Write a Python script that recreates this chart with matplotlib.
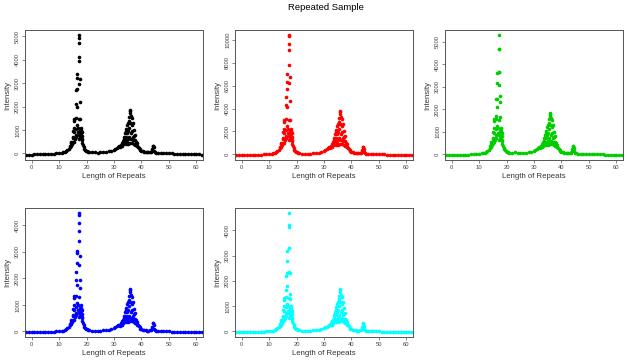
import numpy as np
import matplotlib
matplotlib.use("Agg")
import matplotlib.pyplot as plt

plt.rcParams['font.family'] = ['Liberation Sans', 'DejaVu Sans']

# shared x positions (length of repeats), by segment
x_base_left = [-3, -2, -1, 0, 1, 2, 3, 4, 5, 6, 7, 8, 9, 10, 11]
x_rise = [11.5, 12, 12.5, 13, 13.5]
x_peak1 = [13.8, 14.0, 14.2, 14.4, 14.6, 14.8, 14.5, 14.9, 15.0, 15.1,
           15.2, 15.3, 15.4, 15.5, 15.6, 15.7, 15.4, 16.0, 16.1, 16.2,
           16.3, 16.4, 16.5, 16.6, 16.7, 16.5, 16.3, 16.8, 16.0, 17.0,
           17.1, 17.2, 17.25, 17.3, 17.3, 17.35, 17.4, 17.45, 17.5, 17.55,
           17.6, 17.3, 17.7, 17.2, 17.9, 18.0, 18.1, 18.2, 18.3, 18.4,
           18.5, 18.2, 18.0, 18.7, 18.9, 19.1, 19.4, 19.7, 20.0]
x_between = [20.5, 21, 22, 23, 24, 25, 26, 27, 28, 29, 30, 30.5, 31, 31.5]
x_peak2 = [32.0, 32.2, 32.5, 32.7, 33.0, 33.0, 33.2, 33.4, 33.5, 33.6,
           33.8, 34.0, 34.0, 34.2, 34.3, 34.5, 34.5, 34.6, 34.8, 34.9,
           35.0, 35.0, 35.1, 35.2, 35.3, 35.5, 35.5, 35.6, 35.7, 35.8,
           35.9, 36.0, 36.0, 36.1, 36.2, 36.3, 36.4, 36.5, 36.6, 36.7,
           36.8, 37.0, 37.0, 37.2, 37.3, 37.4, 37.6, 37.7, 37.8, 38.0,
           38.2, 38.3, 38.5, 38.7, 39.0, 39.3]
x_peak3 = [39.6, 40, 40.5, 41, 41.5, 42, 42.5, 43, 43.5, 43.8, 44.0, 44.2,
           44.35, 44.5, 44.7, 44.9, 45.3]
x_base_right = [46, 47, 48, 49, 50, 51, 52, 53, 54, 55, 56, 57, 58, 59, 60,
                61, 62, 63]

repeats = x_base_left + x_rise + x_peak1 + x_between + x_peak2 + x_peak3 + x_base_right

# intensities for each sample (same segment order as above)
black_vals = (
    [-80, -75, -70, -60, -50, -40, -35, -30, -30, -25, -20, -15, -5, 10, 30]
    + [40, 60, 90, 140, 200]
    + [260, 330, 420, 500, 430, 380, 300, 470, 650, 950,
       700, 1400, 1480, 1100, 900, 600, 500, 1050, 1500, 2100,
       2730, 3410, 3240, 2750, 1990, 1200, 800, 900, 700, 1100,
       1450, 2950, 3935, 4715, 4930, 5070, 4120, 3200, 2200, 1450,
       1000, 800, 700, 600, 850, 1000, 1100, 900, 750, 600,
       450, 550, 700, 350, 280, 200, 150, 110, 90]
    + [70, 55, 40, 35, 30, 35, 45, 60, 80, 110, 150, 180, 220, 260]
    + [300, 260, 350, 300, 450, 300, 520, 380, 600, 450,
       700, 850, 550, 400, 950, 1050, 700, 500, 1200, 850,
       1300, 600, 400, 950, 1400, 1550, 700, 1100, 450, 1800,
       1720, 1850, 1300, 850, 600, 1600, 1200, 450, 1500, 950,
       700, 1300, 550, 1000, 750, 400, 800, 550, 350, 500,
       420, 300, 330, 280, 230, 170]
    + [130, 100, 80, 60, 50, 40, 40, 45, 60, 110, 200, 300, 330, 250, 120, 60, 30]
    + [20, 10, 5, 0, 0, -5, -10, -15, -20, -25, -30, -30, -35, -40, -45, -50, -60, -70]
)

red_vals = (
    [-75, -70, -65, -60, -55, -50, -45, -40, -35, -30, -20, -10, 0, 20, 60]
    + [80, 120, 180, 280, 400]
    + [530, 680, 860, 1030, 880, 780, 620, 960, 1330, 1950,
       1440, 2870, 3030, 2250, 1850, 1230, 1030, 2150, 3080, 4300,
       5000, 7000, 6300, 5700, 4100, 2460, 1640, 1850, 1440, 2250,
       2970, 6250, 7800, 9650, 10350, 10450, 9150, 6800, 4700, 3000,
       2050, 1640, 1440, 1230, 1750, 2050, 2250, 1850, 1540, 1230,
       920, 1130, 1440, 720, 570, 410, 300, 220, 180]
    + [130, 100, 70, 60, 55, 60, 80, 110, 150, 210, 290, 350, 430, 510]
    + [610, 530, 720, 610, 920, 610, 1070, 780, 1230, 920,
       1440, 1740, 1130, 820, 1950, 2150, 1440, 1030, 2460, 1740,
       2670, 1230, 820, 1950, 2870, 3180, 1440, 2250, 920, 3690,
       3530, 3800, 2670, 1740, 1230, 3280, 2460, 920, 3080, 1950,
       1440, 2670, 1130, 2050, 1540, 820, 1640, 1130, 720, 1030,
       860, 610, 680, 570, 470, 350]
    + [260, 200, 160, 120, 100, 80, 80, 90, 120, 240, 420, 600, 660, 500, 240, 120, 60]
    + [30, 15, 5, 0, -5, -10, -15, -20, -25, -30, -35, -40, -45, -50, -55, -60, -70, -75]
)

green_vals = (
    [-50, -45, -40, -40, -35, -35, -30, -30, -25, -20, -15, -10, 0, 10, 30]
    + [40, 60, 90, 140, 200]
    + [270, 350, 440, 520, 450, 400, 310, 490, 680, 1000,
       730, 1470, 1550, 1150, 940, 630, 520, 1100, 1550, 1700,
       2450, 3150, 3600, 2450, 2090, 1260, 840, 940, 730, 1150,
       1520, 3100, 3650, 4700, 4680, 5320, 3650, 2600, 2310, 1650,
       1050, 840, 730, 630, 890, 1050, 1150, 940, 790, 630,
       470, 580, 730, 370, 290, 210, 160, 120, 100]
    + [80, 60, 60, 110, 60, 40, 45, 60, 80, 110, 150, 180, 220, 260]
    + [300, 260, 350, 300, 450, 300, 520, 380, 600, 450,
       700, 850, 550, 400, 950, 1050, 700, 500, 1200, 850,
       1300, 600, 400, 950, 1400, 1550, 700, 1100, 450, 1800,
       1720, 1840, 1300, 850, 600, 1600, 1200, 450, 1500, 950,
       700, 1300, 550, 1000, 750, 400, 800, 550, 350, 500,
       420, 300, 330, 280, 230, 170]
    + [130, 100, 80, 60, 50, 40, 40, 45, 60, 120, 230, 340, 370, 280, 130, 60, 30]
    + [20, 10, 5, 0, 0, -5, -5, -10, -10, -15, -20, -20, -25, -30, -35, -40, -45, -50]
)

blue_vals = (
    [-30, -30, -30, -25, -25, -25, -20, -20, -20, -15, -10, -5, 0, 10, 25]
    + [35, 50, 80, 120, 175]
    + [230, 290, 370, 440, 380, 340, 270, 420, 580, 850,
       620, 1250, 1320, 980, 800, 530, 440, 930, 1340, 1950,
       2250, 3050, 2950, 2600, 1770, 1070, 710, 800, 620, 980,
       1290, 2500, 3400, 4100, 4400, 4480, 3800, 2850, 1960, 1650,
       890, 710, 620, 530, 760, 890, 980, 800, 670, 530,
       400, 490, 620, 310, 250, 180, 130, 100, 80]
    + [60, 50, 35, 30, 25, 30, 40, 55, 70, 95, 130, 160, 190, 230]
    + [260, 220, 300, 260, 390, 260, 450, 330, 520, 390,
       600, 730, 470, 340, 820, 900, 600, 430, 1030, 730,
       1120, 520, 340, 820, 1200, 1330, 600, 950, 390, 1550,
       1480, 1590, 1120, 730, 520, 1380, 1030, 390, 1290, 820,
       600, 1120, 470, 860, 650, 340, 690, 470, 300, 430,
       360, 260, 280, 240, 200, 150]
    + [110, 85, 70, 50, 40, 35, 35, 40, 55, 100, 180, 300, 333, 230, 110, 55, 25]
    + [15, 8, 5, 0, 0, -5, -5, -10, -10, -15, -15, -20, -20, -25, -25, -30, -30, -30]
)

cyan_vals = (
    [-30, -30, -30, -25, -25, -25, -20, -20, -20, -15, -10, -5, 0, 10, 25]
    + [35, 50, 80, 120, 175]
    + [230, 290, 380, 450, 390, 340, 270, 420, 590, 860,
       630, 1260, 1340, 990, 810, 540, 450, 950, 1350, 1650,
       2200, 2800, 3200, 2300, 1800, 1080, 720, 810, 630, 990,
       1310, 2350, 3300, 4200, 4150, 4700, 3300, 2300, 1500, 1300,
       900, 720, 630, 540, 770, 900, 990, 810, 680, 540,
       410, 500, 630, 320, 250, 180, 140, 100, 80]
    + [60, 50, 35, 30, 25, 30, 40, 55, 70, 95, 130, 160, 190, 230]
    + [270, 240, 320, 270, 410, 270, 470, 350, 550, 410,
       640, 770, 500, 360, 860, 960, 640, 460, 1090, 770,
       1180, 550, 360, 860, 1270, 1410, 640, 1000, 410, 1640,
       1570, 1690, 1180, 770, 550, 1460, 1090, 410, 1370, 860,
       640, 1180, 500, 910, 680, 360, 730, 500, 320, 460,
       380, 270, 300, 250, 210, 150]
    + [115, 90, 70, 55, 45, 35, 35, 40, 55, 100, 190, 300, 333, 230, 110, 55, 25]
    + [15, 8, 5, 0, 0, -5, -5, -10, -10, -15, -15, -20, -20, -25, -25, -30, -30, -30]
)

samples = [black_vals, red_vals, green_vals, blue_vals, cyan_vals]
colors = ['black', '#FF0000', '#00CD00', '#0000FF', '#00FFFF']
y_ticks = [
    [0, 1000, 2000, 3000, 4000, 5000],
    [0, 2000, 4000, 6000, 8000, 10000],
    [0, 1000, 2000, 3000, 4000, 5000],
    [0, 1000, 2000, 3000, 4000],
    [0, 1000, 2000, 3000, 4000],
]
x_ticks = [0, 10, 20, 30, 40, 50, 60]

W, H = 627, 364
fig = plt.figure(figsize=(W / 100, H / 100), dpi=100)

# panel boxes in pixels: left, top, right, bottom
boxes = [
    (25, 30, 203, 160), (235, 30, 413, 160), (445, 30, 623, 160),
    (25, 208, 203, 337), (235, 208, 413, 337),
]

frame_col = '#555555'
for vals, col, yt, (l, t, r, b) in zip(samples, colors, y_ticks, boxes):
    assert len(vals) == len(repeats)
    ax = fig.add_axes([l / W, 1 - b / H, (r - l) / W, (b - t) / H])
    ax.plot(repeats, vals, 'o', color=col, markersize=2.6, markeredgewidth=0)
    # R style: xlim 0..60 with 4% padding, y padded 4% of the data range
    ax.set_xlim(-2.4, 62.4)
    lo, hi = min(vals), max(vals)
    pad = 0.04 * (hi - lo)
    ax.set_ylim(lo - pad, hi + pad)
    ax.set_xticks(x_ticks)
    ax.set_yticks(yt)
    ax.set_yticklabels([str(v) for v in yt], rotation=90, va='center')
    ax.tick_params(labelsize=4.2, length=2, width=0.5, pad=1.5,
                   colors='#555555', labelcolor='#444444')
    for s in ax.spines.values():
        s.set_color(frame_col)
        s.set_linewidth(0.7)
    ax.set_xlabel('Length of Repeats', fontsize=5.6, labelpad=2, color='#333333')
    ax.set_ylabel('Intensity', fontsize=5.6, labelpad=3, color='#333333')

fig.text(326 / W, 1 - 7 / H, 'Repeated Sample', ha='center', va='center', fontsize=6.8)

fig.savefig('out.png', dpi=100)
